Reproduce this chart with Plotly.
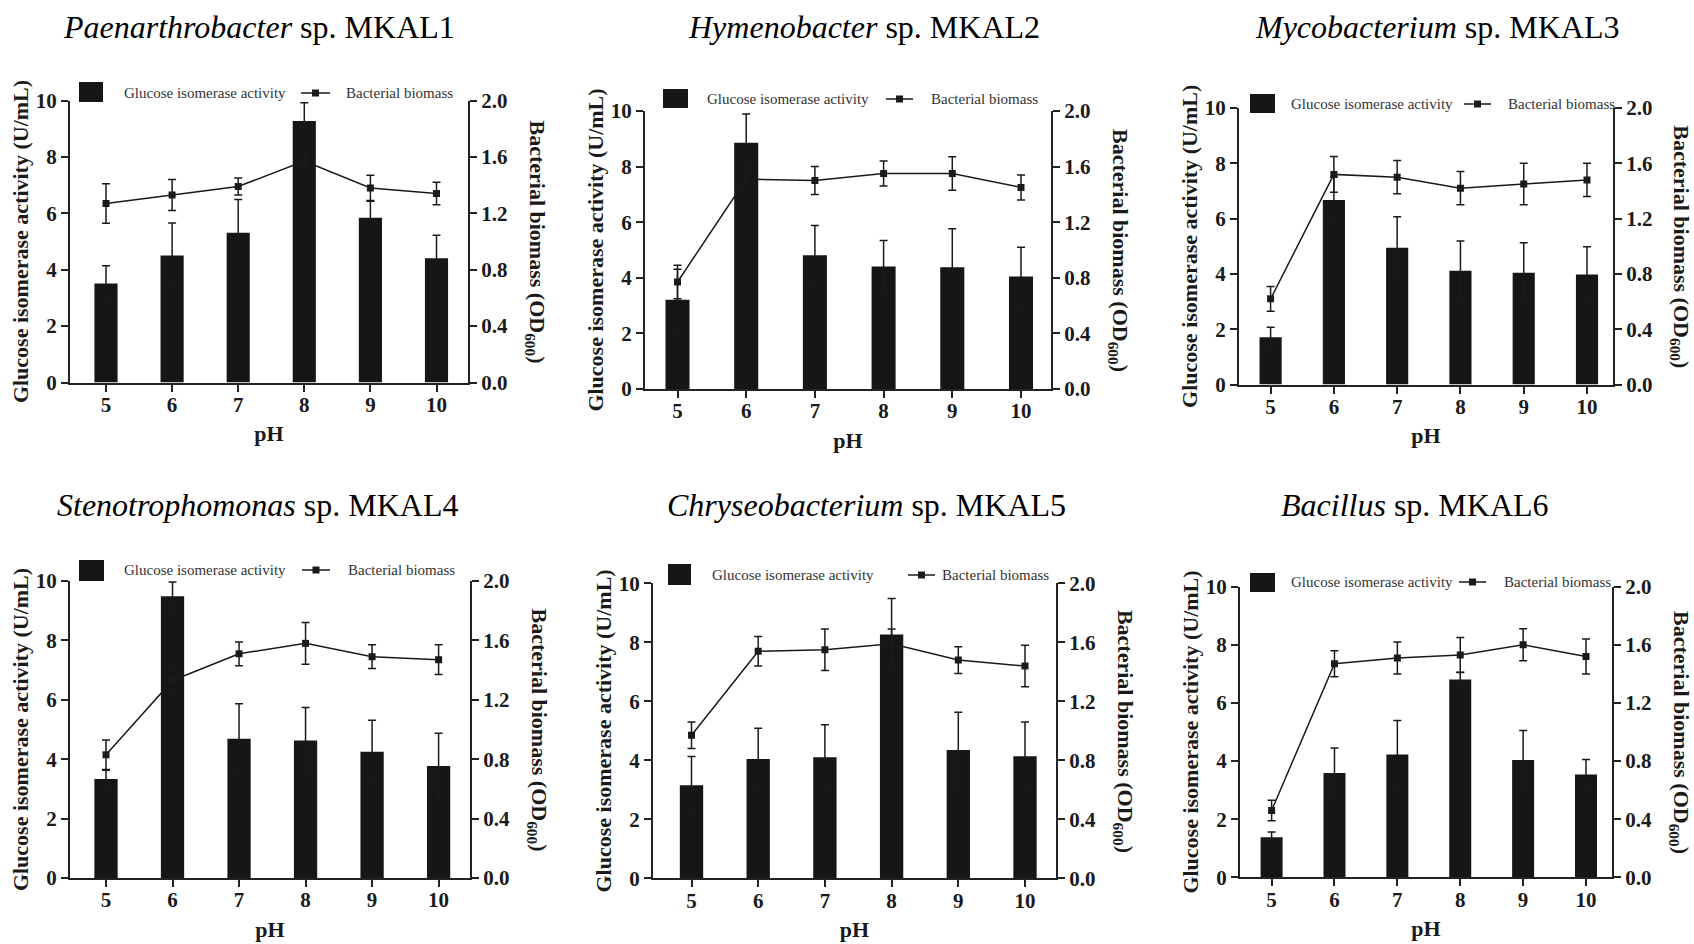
import plotly.graph_objects as go

W, H = 1694, 944

# ---------------- data ----------------
ph = [5, 6, 7, 8, 9, 10]
ph_tick_labels = ["5", "6", "7", "8", "9", "10"]
activity_ticks = [0, 2, 4, 6, 8, 10]
activity_tick_labels = ["0", "2", "4", "6", "8", "10"]
biomass_ticks = [0.0, 0.4, 0.8, 1.2, 1.6, 2.0]
biomass_tick_labels = ["0.0", "0.4", "0.8", "1.2", "1.6", "2.0"]

genus = ["Paenarthrobacter", "Hymenobacter", "Mycobacterium",
         "Stenotrophomonas", "Chryseobacterium", "Bacillus"]
strain = ["MKAL1", "MKAL2", "MKAL3", "MKAL4", "MKAL5", "MKAL6"]

activity_mkal1 = [3.51, 4.50, 5.31, 9.27, 5.84, 4.41]
activity_err_mkal1 = [0.63, 1.16, 1.18, 0.65, 0.59, 0.81]
biomass_mkal1 = [1.27, 1.33, 1.39, 1.57, 1.38, 1.34]
biomass_err_mkal1 = [0.14, 0.11, 0.06, 0.08, 0.09, 0.08]

activity_mkal2 = [3.21, 8.86, 4.81, 4.41, 4.38, 4.05]
activity_err_mkal2 = [1.10, 1.03, 1.07, 0.93, 1.38, 1.05]
biomass_mkal2 = [0.77, 1.51, 1.50, 1.55, 1.55, 1.45]
biomass_err_mkal2 = [0.12, 0.10, 0.10, 0.09, 0.12, 0.09]

activity_mkal3 = [1.71, 6.67, 4.95, 4.12, 4.04, 3.98]
activity_err_mkal3 = [0.36, 0.83, 1.12, 1.07, 1.09, 1.00]
biomass_mkal3 = [0.62, 1.52, 1.50, 1.42, 1.45, 1.48]
biomass_err_mkal3 = [0.09, 0.13, 0.12, 0.12, 0.15, 0.12]

activity_mkal4 = [3.33, 9.49, 4.69, 4.63, 4.25, 3.77]
activity_err_mkal4 = [0.30, 0.48, 1.18, 1.11, 1.06, 1.10]
biomass_mkal4 = [0.83, 1.33, 1.51, 1.58, 1.49, 1.47]
biomass_err_mkal4 = [0.10, 0.10, 0.08, 0.14, 0.08, 0.10]

activity_mkal5 = [3.16, 4.05, 4.11, 8.27, 4.35, 4.14]
activity_err_mkal5 = [0.97, 1.04, 1.10, 1.22, 1.28, 1.16]
biomass_mkal5 = [0.97, 1.54, 1.55, 1.59, 1.48, 1.44]
biomass_err_mkal5 = [0.09, 0.10, 0.14, 0.10, 0.09, 0.14]

activity_mkal6 = [1.38, 3.59, 4.23, 6.81, 4.04, 3.54]
activity_err_mkal6 = [0.18, 0.86, 1.17, 0.25, 1.01, 0.51]
biomass_mkal6 = [0.46, 1.47, 1.51, 1.53, 1.60, 1.52]
biomass_err_mkal6 = [0.07, 0.09, 0.11, 0.12, 0.11, 0.12]

activities = [activity_mkal1, activity_mkal2, activity_mkal3,
              activity_mkal4, activity_mkal5, activity_mkal6]
activity_errs = [activity_err_mkal1, activity_err_mkal2, activity_err_mkal3,
                 activity_err_mkal4, activity_err_mkal5, activity_err_mkal6]
biomasses = [biomass_mkal1, biomass_mkal2, biomass_mkal3,
             biomass_mkal4, biomass_mkal5, biomass_mkal6]
biomass_errs = [biomass_err_mkal1, biomass_err_mkal2, biomass_err_mkal3,
                biomass_err_mkal4, biomass_err_mkal5, biomass_err_mkal6]

legend_bar_text = "Glucose isomerase activity"
legend_line_text = "Bacterial biomass"
left_title = "Glucose isomerase activity (U/mL)"
right_title = "Bacterial biomass (OD<sub>600</sub>)"
x_title = "pH"

# ---------------- layout geometry (pixels) ----------------
geo = [
    dict(l=70, r=468, t=100.5, b=382.5, x5=106, x10=436.5, tc=(259, 27),
         sq=(79, 103, 82, 102), t1=122, ln=(301, 330), t2=344, ly=93),
    dict(l=645, r=1051, t=111, b=389, x5=677.5, x10=1021, tc=(864, 27),
         sq=(663, 688, 89, 108), t1=705, ln=(886, 913), t2=929, ly=99),
    dict(l=1239, r=1613, t=108, b=384.6, x5=1270.6, x10=1587, tc=(1437, 27),
         sq=(1250, 1275, 94, 113), t1=1289, ln=(1464, 1491), t2=1506, ly=104),
    dict(l=70, r=470, t=581, b=878, x5=106, x10=438.6, tc=(257, 505),
         sq=(79, 104, 560, 581), t1=122, ln=(302, 330), t2=346, ly=570),
    dict(l=653, r=1056, t=583.4, b=878.4, x5=691.5, x10=1025, tc=(866, 505),
         sq=(668, 691, 564, 585), t1=710, ln=(908, 935), t2=940, ly=575),
    dict(l=1240, r=1612, t=586.7, b=877.3, x5=1271.6, x10=1586, tc=(1415, 505),
         sq=(1250, 1275, 573, 592), t1=1289, ln=(1459, 1486), t2=1502, ly=582),
]


def fx(px):
    return px / W


def fy(py):
    return 1 - py / H


def bold(labels):
    return [f"<b>{s}</b>" for s in labels]


FONT = "Liberation Serif"
INK = "#1a1a1a"
BAR = "#161616"
AX = "#222222"

fig = go.Figure()
layout = dict(
    width=W, height=H, autosize=False,
    margin=dict(l=0, r=0, t=0, b=0, pad=0),
    paper_bgcolor="white", plot_bgcolor="white",
    showlegend=False,
    font=dict(family=FONT, color=INK),
)
annotations = []
shapes = []

tickfont = dict(family=FONT, size=21, color=INK)

for i, g in enumerate(geo):
    n = i + 1
    xname = "x" if n == 1 else f"x{n}"
    yl = 2 * n - 1
    yr = 2 * n
    ylname = "y" if yl == 1 else f"y{yl}"
    yrname = f"y{yr}"
    xkey = "xaxis" if n == 1 else f"xaxis{n}"
    ylkey = "yaxis" if yl == 1 else f"yaxis{yl}"
    yrkey = f"yaxis{yr}"

    unit = (g["x10"] - g["x5"]) / 5.0
    xmin = 5 - (g["x5"] - g["l"]) / unit
    xmax = 10 + (g["r"] - g["x10"]) / unit

    fig.add_trace(go.Bar(
        x=ph, y=activities[i], xaxis=xname, yaxis=ylname,
        width=0.35, marker=dict(color=BAR, line=dict(width=0)),
        error_y=dict(type="data", array=activity_errs[i], visible=True,
                     color=INK, thickness=1.5, width=4),
        name=legend_bar_text,
    ))
    fig.add_trace(go.Scatter(
        x=ph, y=biomasses[i], xaxis=xname, yaxis=yrname,
        mode="lines+markers",
        line=dict(color=INK, width=1.5),
        marker=dict(symbol="square", size=7, color=INK),
        error_y=dict(type="data", array=biomass_errs[i], visible=True,
                     color=INK, thickness=1.5, width=4),
        name=legend_line_text,
    ))

    layout[xkey] = dict(
        domain=[fx(g["l"]), fx(g["r"])], anchor=ylname, automargin=False,
        range=[xmin, xmax], tickmode="array", tickvals=ph, ticktext=bold(ph_tick_labels),
        showline=True, linecolor=AX, linewidth=2,
        ticks="outside", ticklen=7, tickwidth=2, tickcolor=AX,
        tickfont=tickfont, showgrid=False, zeroline=False,
        ticklabelstandoff=-5,
        title=dict(text=f"<b>{x_title}</b>", font=dict(family=FONT, size=22, color=INK),
                   standoff=10),
    )
    layout[ylkey] = dict(
        domain=[fy(g["b"]), fy(g["t"])], anchor=xname, automargin=False,
        range=[0, 10], tickmode="array", tickvals=activity_ticks,
        ticktext=bold(activity_tick_labels),
        showline=True, linecolor=AX, linewidth=2,
        ticks="outside", ticklen=7, tickwidth=2, tickcolor=AX,
        tickfont=tickfont, showgrid=False, zeroline=False,
        title=dict(text=f"<b>{left_title}</b>", font=dict(family=FONT, size=22, color=INK),
                   standoff=1),
    )
    layout[yrkey] = dict(
        overlaying=ylname, side="right", anchor=xname, automargin=False,
        range=[0, 2], tickmode="array", tickvals=biomass_ticks,
        ticktext=bold(biomass_tick_labels),
        showline=True, linecolor=AX, linewidth=2,
        ticks="outside", ticklen=7, tickwidth=2, tickcolor=AX,
        tickfont=tickfont, showgrid=False, zeroline=False,
    )

    # right axis title (reads top to bottom)
    annotations.append(dict(
        text=f"<b>{right_title}</b>", textangle=90,
        x=fx(min(g["r"] + 68, W - 14)), y=fy((g["t"] + g["b"]) / 2),
        xref="paper", yref="paper", xanchor="center", yanchor="middle",
        showarrow=False, font=dict(family=FONT, size=22, color=INK),
    ))
    # panel title
    annotations.append(dict(
        text=f"<i>{genus[i]}</i> sp. {strain[i]}",
        x=fx(g["tc"][0]), y=fy(g["tc"][1]),
        xref="paper", yref="paper", xanchor="center", yanchor="middle",
        showarrow=False, font=dict(family=FONT, size=32, color="#000000"),
    ))
    # legend
    x0, x1, y0, y1 = g["sq"]
    shapes.append(dict(type="rect", xref="paper", yref="paper",
                       x0=fx(x0), x1=fx(x1), y0=fy(y1), y1=fy(y0),
                       fillcolor=BAR, line=dict(width=0)))
    annotations.append(dict(
        text=legend_bar_text, x=fx(g["t1"]), y=fy(g["ly"]),
        xref="paper", yref="paper", xanchor="left", yanchor="middle",
        showarrow=False, font=dict(family=FONT, size=15, color="#333333"),
    ))
    lx0, lx1 = g["ln"]
    shapes.append(dict(type="line", xref="paper", yref="paper",
                       x0=fx(lx0), x1=fx(lx1), y0=fy(g["ly"]), y1=fy(g["ly"]),
                       line=dict(color=INK, width=1.5)))
    mx = (lx0 + lx1) / 2
    shapes.append(dict(type="rect", xref="paper", yref="paper",
                       x0=fx(mx - 3.5), x1=fx(mx + 3.5),
                       y0=fy(g["ly"] + 3.5), y1=fy(g["ly"] - 3.5),
                       fillcolor=INK, line=dict(width=0)))
    annotations.append(dict(
        text=legend_line_text, x=fx(g["t2"]), y=fy(g["ly"]),
        xref="paper", yref="paper", xanchor="left", yanchor="middle",
        showarrow=False, font=dict(family=FONT, size=15, color="#333333"),
    ))

layout["annotations"] = annotations
layout["shapes"] = shapes
fig.update_layout(**layout)

fig.write_html("out.html",
               config={"displayModeBar": False},
               post_script="document.body.style.margin='0px';document.body.style.overflow='hidden';")
